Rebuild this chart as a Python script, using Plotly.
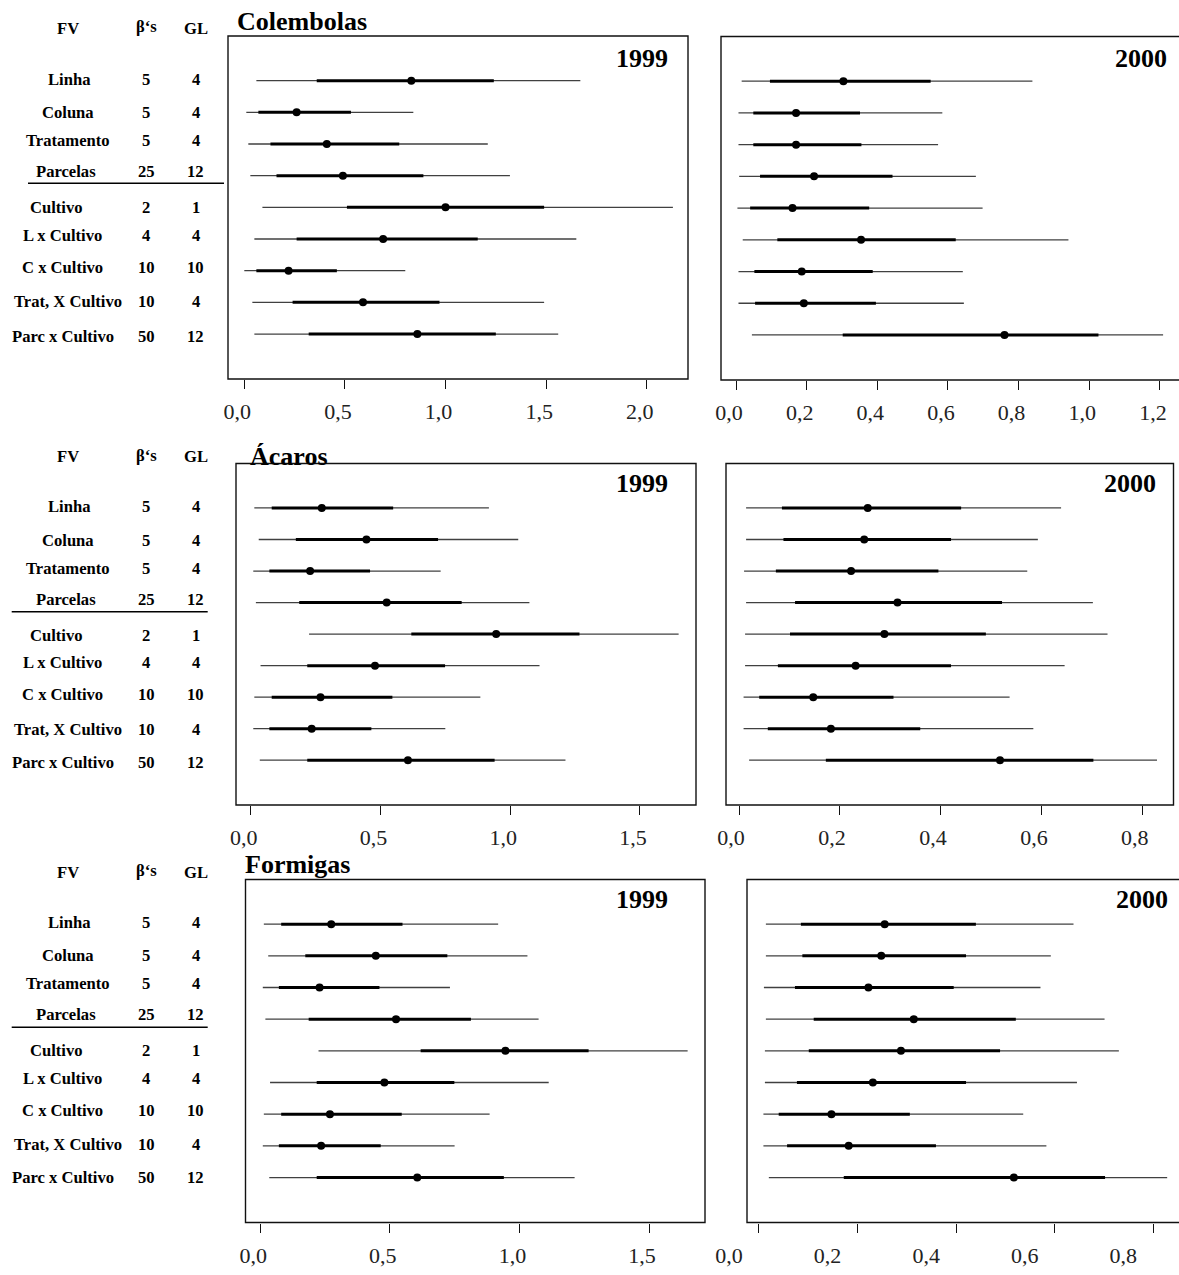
import plotly.graph_objects as go

# ---------------------------------------------------------------------------
# Data: variance components (posterior summaries) by source of variation
# each panel: 95% lower, 50% lower, median, 50% upper, 95% upper
# ---------------------------------------------------------------------------
factors = ["Linha", "Coluna", "Tratamento", "Parcelas", "Cultivo",
           "L x Cultivo", "C x Cultivo", "Trat, X Cultivo", "Parc x Cultivo"]
betas = [5, 5, 5, 25, 2, 4, 10, 10, 50]
gl = [4, 4, 4, 12, 1, 4, 10, 4, 12]
rows = list(range(1, 10))

groups = ["Colembolas", "Ácaros", "Formigas"]
years = ["1999", "2000"]

col99_lo95 = [0.06, 0.01, 0.02, 0.03, 0.09, 0.05, 0.00, 0.04, 0.05]
col99_lo50 = [0.36, 0.07, 0.13, 0.16, 0.51, 0.26, 0.06, 0.24, 0.32]
col99_med = [0.83, 0.26, 0.41, 0.49, 1.00, 0.69, 0.22, 0.59, 0.86]
col99_hi50 = [1.24, 0.53, 0.77, 0.89, 1.49, 1.16, 0.46, 0.97, 1.25]
col99_hi95 = [1.67, 0.84, 1.21, 1.32, 2.13, 1.65, 0.80, 1.49, 1.56]

col00_lo95 = [0.016, 0.007, 0.007, 0.009, 0.004, 0.019, 0.007, 0.007, 0.045]
col00_lo50 = [0.096, 0.049, 0.049, 0.068, 0.040, 0.117, 0.052, 0.054, 0.302]
col00_med = [0.304, 0.170, 0.170, 0.221, 0.160, 0.354, 0.186, 0.192, 0.760]
col00_hi50 = [0.551, 0.351, 0.355, 0.443, 0.377, 0.622, 0.387, 0.396, 1.026]
col00_hi95 = [0.839, 0.584, 0.572, 0.679, 0.698, 0.941, 0.642, 0.645, 1.209]

aca99_lo95 = [0.014, 0.031, 0.010, 0.020, 0.225, 0.038, 0.014, 0.010, 0.035]
aca99_lo50 = [0.081, 0.174, 0.072, 0.187, 0.619, 0.218, 0.081, 0.072, 0.218]
aca99_med = [0.274, 0.446, 0.229, 0.524, 0.946, 0.479, 0.269, 0.235, 0.606]
aca99_hi50 = [0.549, 0.722, 0.460, 0.813, 1.267, 0.749, 0.546, 0.465, 0.940]
aca99_hi95 = [0.918, 1.031, 0.732, 1.074, 1.649, 1.113, 0.885, 0.750, 1.213]

aca00_lo95 = [0.014, 0.014, 0.010, 0.014, 0.012, 0.012, 0.009, 0.009, 0.020]
aca00_lo50 = [0.085, 0.088, 0.073, 0.111, 0.101, 0.077, 0.040, 0.057, 0.172]
aca00_med = [0.255, 0.248, 0.222, 0.314, 0.288, 0.231, 0.147, 0.182, 0.517]
aca00_hi50 = [0.440, 0.420, 0.395, 0.521, 0.489, 0.420, 0.306, 0.359, 0.702]
aca00_hi95 = [0.638, 0.592, 0.571, 0.701, 0.730, 0.645, 0.536, 0.583, 0.828]

for99_lo95 = [0.014, 0.031, 0.010, 0.020, 0.225, 0.038, 0.014, 0.010, 0.035]
for99_lo50 = [0.081, 0.174, 0.072, 0.187, 0.619, 0.218, 0.081, 0.072, 0.218]
for99_med = [0.274, 0.446, 0.229, 0.524, 0.946, 0.479, 0.269, 0.235, 0.606]
for99_hi50 = [0.549, 0.722, 0.460, 0.813, 1.267, 0.749, 0.546, 0.465, 0.940]
for99_hi95 = [0.918, 1.031, 0.732, 1.074, 1.649, 1.113, 0.885, 0.750, 1.213]

for00_lo95 = [0.014, 0.014, 0.010, 0.014, 0.012, 0.012, 0.009, 0.009, 0.020]
for00_lo50 = [0.085, 0.088, 0.073, 0.111, 0.101, 0.077, 0.040, 0.057, 0.172]
for00_med = [0.255, 0.248, 0.222, 0.314, 0.288, 0.231, 0.147, 0.182, 0.517]
for00_hi50 = [0.440, 0.420, 0.395, 0.521, 0.489, 0.420, 0.306, 0.359, 0.702]
for00_hi95 = [0.638, 0.592, 0.571, 0.701, 0.730, 0.645, 0.536, 0.583, 0.828]

ticks_a = [0.0, 0.5, 1.0, 1.5, 2.0]
ticks_b = [0.0, 0.2, 0.4, 0.6, 0.8, 1.0, 1.2]
ticks_c = [0.0, 0.5, 1.0, 1.5]
ticks_d = [0.0, 0.2, 0.4, 0.6, 0.8]

# ---------------------------------------------------------------------------
# Layout (pixel geometry of the page)
# ---------------------------------------------------------------------------
W, H = 1179, 1275
SERIF = "Liberation Serif, Times New Roman, serif"


def fx(px):
    return px / W


def fy(py):
    return 1 - py / H


panels = [
    # (summaries, box [left, top, right, bottom] px, x range, ticks, label shift, open right side)
    ((col99_lo95, col99_lo50, col99_med, col99_hi50, col99_hi95),
     (228, 36, 688, 379), (-0.081, 2.205), ticks_a, -7, False),
    ((col00_lo95, col00_lo50, col00_med, col00_hi50, col00_hi95),
     (721, 36.5, 1179, 380), (-0.0425, 1.254), ticks_b, -7, True),
    ((aca99_lo95, aca99_lo50, aca99_med, aca99_hi50, aca99_hi95),
     (236, 463.5, 696, 805), (-0.0566, 1.716), ticks_c, -7, False),
    ((aca00_lo95, aca00_lo50, aca00_med, aca00_hi50, aca00_hi95),
     (726, 463.5, 1173.5, 805), (-0.0258, 0.8607), ticks_d, -8, False),
    ((for99_lo95, for99_lo50, for99_med, for99_hi50, for99_hi95),
     (245.5, 879.5, 705, 1222.5), (-0.0567, 1.716), ticks_c, -7, False),
    ((for00_lo95, for00_lo50, for00_med, for00_hi50, for00_hi95),
     (747, 879.5, 1179, 1222.5), (-0.0243, 0.852), ticks_d, -30, True),
]

# rows 1..9 from top to bottom, with the same padding above and below
Y_RANGE = [10.42, -0.41]

fig = go.Figure()
shapes = []
annotations = []
layout_axes = {}


def segs(lo, hi):
    xs, ys = [], []
    for a, b, r in zip(lo, hi, rows):
        xs += [a, b, None]
        ys += [r, r, None]
    return xs, ys


for i, (summ, box, xr, tv, shift, open_right) in enumerate(panels):
    k = "" if i == 0 else str(i + 1)
    lo95, lo50, med, hi50, hi95 = summ
    xa, ya = "x" + k, "y" + k

    xs, ys = segs(lo95, hi95)
    fig.add_trace(go.Scatter(x=xs, y=ys, mode="lines", xaxis=xa, yaxis=ya,
                             line=dict(color="#404040", width=1.3),
                             hoverinfo="skip", showlegend=False))
    xs, ys = segs(lo50, hi50)
    fig.add_trace(go.Scatter(x=xs, y=ys, mode="lines", xaxis=xa, yaxis=ya,
                             line=dict(color="#000000", width=3),
                             hoverinfo="skip", showlegend=False))
    fig.add_trace(go.Scatter(x=med, y=rows, mode="markers", xaxis=xa, yaxis=ya,
                             marker=dict(color="#000000", size=8),
                             showlegend=False))

    left, top, right, bottom = box
    layout_axes["xaxis" + k] = dict(
        domain=[fx(left), fx(right)], range=list(xr), anchor=ya,
        tickvals=tv, tickformat=".1f", ticks="outside", ticklen=9,
        tickwidth=1.3, tickcolor="#111", showgrid=False, zeroline=False,
        showline=False, ticklabelshift=shift, ticklabelstandoff=4,
        automargin=False,
        tickfont=dict(family=SERIF, size=22, color="#222"),
    )
    layout_axes["yaxis" + k] = dict(
        domain=[fy(bottom), fy(top)], range=Y_RANGE, anchor=xa,
        showticklabels=False, showgrid=False, zeroline=False,
        showline=False, ticks="", automargin=False,
    )
    shapes.append(dict(type="rect", xref=xa + " domain", yref=ya + " domain",
                       x0=0, x1=1.05 if open_right else 1, y0=0, y1=1,
                       line=dict(color="#111", width=1.4), layer="above"))

# Year labels inside each panel
year_pos = [(642, 59), (1141, 58), (642, 483), (1130, 483), (642, 899), (1142, 899)]
for i, (px, py) in enumerate(year_pos):
    annotations.append(dict(text="<b>%s</b>" % years[i % 2], x=fx(px), y=fy(py),
                            xref="paper", yref="paper", xanchor="center",
                            yanchor="middle", showarrow=False,
                            font=dict(family=SERIF, size=26, color="#000")))

# Group titles above the 1999 panels
title_pos = [(235, 22), (248, 457), (243, 864)]
for g, (px, py) in zip(groups, title_pos):
    annotations.append(dict(text="<b>%s</b>" % g, x=fx(px), y=fy(py),
                            xref="paper", yref="paper", xanchor="left",
                            yanchor="middle", showarrow=False,
                            font=dict(family=SERIF, size=26, color="#000")))

# Table of sources of variation, number of betas and degrees of freedom
label_x = [69, 68, 68, 66, 56, 62.7, 62, 67.7, 62.7]
block_header_y = [28, 456.7, 872.2]
block_row_y = [
    [79, 112.3, 140, 171, 207.7, 235.3, 267.3, 301.7, 336],
    [506.7, 540, 568.3, 599.3, 635, 662.7, 695, 729, 762.3],
    [922.2, 955.5, 983.8, 1014.8, 1050.5, 1078.2, 1110.5, 1144.5, 1177.8],
]
rule_y = [183.3, 611.7, 1027.2]
rule_x = [(28, 224), (11.7, 207.7), (11.7, 207.7)]
BX, GX, FVX = 146, 196, 68

tfont = dict(family=SERIF, size=16.6, color="#000")
for b in range(3):
    hy = block_header_y[b]
    for txt, px, dy in (("FV", FVX, 0), ("β‘s", BX, -1.5), ("GL", GX, 0)):
        annotations.append(dict(text="<b>%s</b>" % txt, x=fx(px), y=fy(hy + dy),
                                xref="paper", yref="paper", xanchor="center",
                                yanchor="middle", showarrow=False, font=tfont))
    for j in range(9):
        ry = block_row_y[b][j]
        annotations.append(dict(text="<b>%s</b>" % factors[j], x=fx(label_x[j]),
                                y=fy(ry), xref="paper", yref="paper",
                                xanchor="center", yanchor="middle",
                                showarrow=False, font=tfont))
        annotations.append(dict(text="<b>%d</b>" % betas[j], x=fx(BX), y=fy(ry),
                                xref="paper", yref="paper", xanchor="center",
                                yanchor="middle", showarrow=False, font=tfont))
        annotations.append(dict(text="<b>%d</b>" % gl[j], x=fx(GX), y=fy(ry),
                                xref="paper", yref="paper", xanchor="center",
                                yanchor="middle", showarrow=False, font=tfont))
    x0, x1 = rule_x[b]
    shapes.append(dict(type="line", xref="paper", yref="paper",
                       x0=fx(x0), x1=fx(x1), y0=fy(rule_y[b]), y1=fy(rule_y[b]),
                       line=dict(color="#000", width=1.4)))

fig.update_layout(
    width=W, height=H,
    margin=dict(l=0, r=0, t=0, b=0, autoexpand=False),
    paper_bgcolor="white", plot_bgcolor="white",
    separators=",.",
    showlegend=False,
    shapes=shapes,
    annotations=annotations,
    **layout_axes,
)

fig.write_html("out.html")
